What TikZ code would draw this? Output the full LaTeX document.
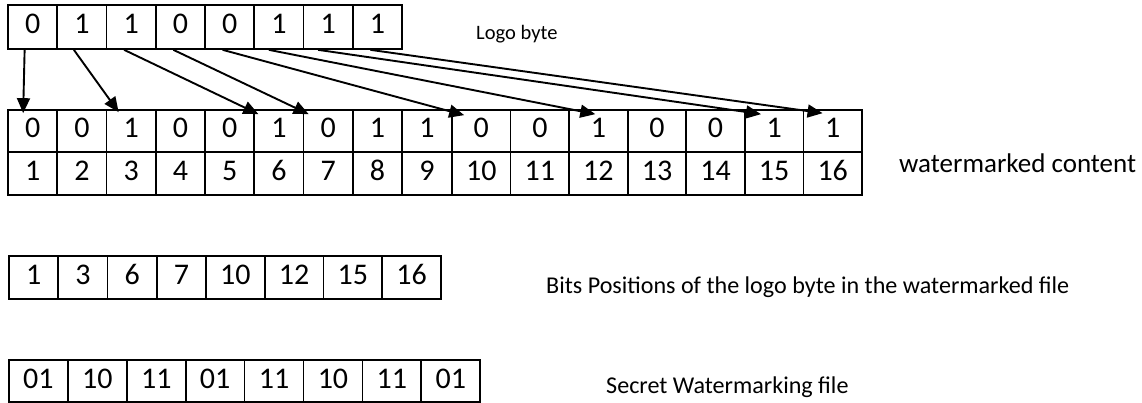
\documentclass[tikz,border=0pt]{standalone}
\usepackage{fontspec}
\setmainfont{Carlito}
\usetikzlibrary{arrows.meta}
\begin{document}
\begin{tikzpicture}[x=1pt,y=-1pt,
  cell/.style={draw=black, line width=1.7pt, inner sep=0pt, anchor=center,
    font=\fontsize{30}{30}\selectfont, text height=14pt, text depth=0pt},
  lcell/.style={cell, align=left, inner xsep=9pt, text width={#1-18pt}},
  arr/.style={-{Triangle[length=15pt,width=13pt]}, line width=1.9pt},
  lbl/.style={anchor=base west, inner sep=0pt}]
\useasboundingbox (0,0) rectangle (1142,403);

% logo byte
\foreach \v [count=\i] in {0,1,1,0,0,1,1,1}
  \node[cell, minimum width=49.25pt, minimum height=44pt] (L\i) at ({8+49.25*(\i-0.5)},27) {\v};
\node[lbl, font=\fontsize{20.5}{20.5}\selectfont] (logo) at (476,40) {Logo byte};

% watermarked content: bit row and position row
\foreach \v/\a [count=\i] in {0/l,0/c,1/c,0/c,0/c,1/l,0/c,1/c} {
  \ifx\a l
    \node[lcell=49.25pt, minimum width=49.25pt, minimum height=42pt] (W\i) at ({8+49.25*(\i-0.5)},131) {\v};
  \else
    \node[cell, minimum width=49.25pt, minimum height=42pt] (W\i) at ({8+49.25*(\i-0.5)},131) {\v};
  \fi
  \node[cell, minimum width=49.25pt, minimum height=43pt] (N\i) at ({8+49.25*(\i-0.5)},173.5) {\i};
}
\node[cell, minimum width=50pt, minimum height=42pt] (W9) at (427,131) {1};
\node[cell, minimum width=50pt, minimum height=43pt] (N9) at (427,173.5) {9};
\foreach \v/\a [count=\k from 10] in {0/l,0/c,1/l,0/c,0/c,1/l,1/l} {
  \ifx\a l
    \node[lcell=58.57pt, minimum width=58.57pt, minimum height=42pt] (W\k) at ({452+58.57*(\k-9.5)},131) {\v};
  \else
    \node[cell, minimum width=58.57pt, minimum height=42pt] (W\k) at ({452+58.57*(\k-9.5)},131) {\v};
  \fi
  \node[cell, minimum width=58.57pt, minimum height=43pt] (N\k) at ({452+58.57*(\k-9.5)},173.5) {\k};
}
\node[lbl, font=\fontsize{27}{27}\selectfont] (wmc) at (899,173) {watermarked content};

% bit positions
\foreach \v [count=\i] in {1,3,6,7}
  \node[cell, minimum width=49.25pt, minimum height=43pt] (P\i) at ({9+49.25*(\i-0.5)},277.5) {\v};
\foreach \v [count=\i from 5] in {10,12,15,16}
  \node[cell, minimum width=58.75pt, minimum height=43pt] (P\i) at ({206+58.75*(\i-4.5)},277.5) {\v};
\node[lbl, font=\fontsize{24.1}{24.1}\selectfont] (pos) at (546,293) {Bits Positions of the logo byte in the watermarked file};

% secret watermarking file
\foreach \v [count=\i] in {01,10,11,01,11,10,11,01}
  \node[cell, minimum width=58.9pt, minimum height=42pt] (S\i) at ({9+58.9*(\i-0.5)},381) {\v};
\node[lbl, font=\fontsize{24.1}{24.1}\selectfont] (sec) at (606,393) {Secret Watermarking file};

% logo bits copied into the watermarked content
\draw[arr] ([xshift=-8pt]L1.south) -- ([xshift=16pt,yshift=-4pt]W1.north west);
\draw[arr] ([xshift=-8pt]L2.south) -- ([xshift=13pt,yshift=-3pt]W3.north west);
\draw[arr] ([xshift=-7pt]L3.south) -- ([xshift=5pt,yshift=-5pt]W6.north west);
\draw[arr] ([xshift=-7pt]L4.south) -- ([xshift=6pt,yshift=-5pt]W7.north west);
\draw[arr] ([xshift=-7pt]L5.south) -- ([xshift=13pt,yshift=-6pt]W10.north west);
\draw[arr] ([xshift=-10pt]L6.south) -- ([xshift=27pt,yshift=-5pt]W12.north west);
\draw[arr] ([xshift=-10pt]L7.south) -- ([xshift=17pt,yshift=-5pt]W15.north west);
\draw[arr] ([xshift=-7pt]L8.south) -- ([xshift=20pt,yshift=-4pt]W16.north west);
\end{tikzpicture}
\end{document}
